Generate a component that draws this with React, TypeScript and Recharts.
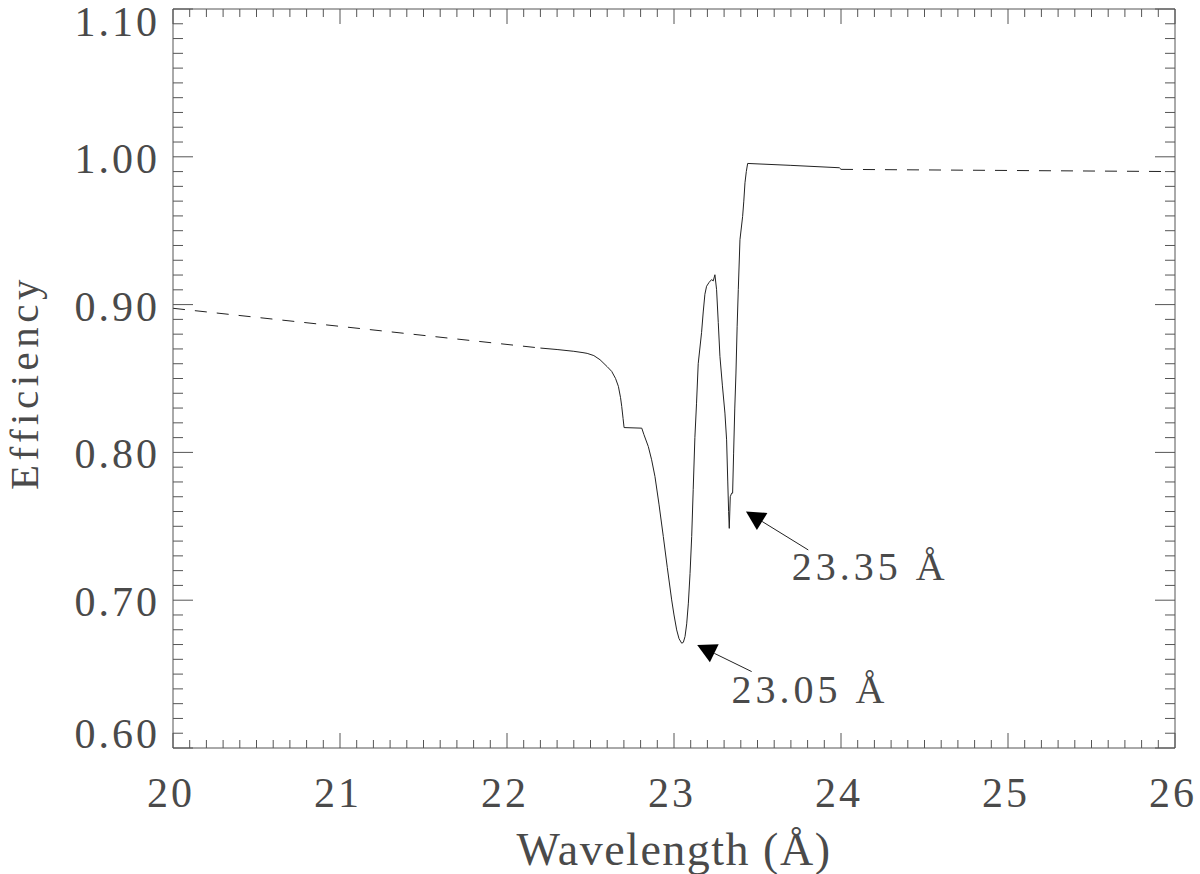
import React from 'react';
import { LineChart, Line, XAxis, YAxis, ReferenceLine, ReferenceDot, Label } from 'recharts';

// ---- data ----
const dashedLeftX = [20.0, 22.2];
const dashedLeftY = [0.8975, 0.8706];

const solidX = [
  22.2, 22.3, 22.4, 22.455, 22.48, 22.52, 22.557, 22.6, 22.627, 22.65, 22.667, 22.68, 22.687, 22.695, 22.701,
  22.807, 22.82, 22.846, 22.866, 22.886, 22.91, 22.936, 22.96, 22.986, 23.0, 23.016, 23.03, 23.046, 23.056,
  23.066, 23.076, 23.086, 23.096, 23.106, 23.115, 23.125, 23.135, 23.145, 23.165, 23.175, 23.185, 23.195,
  23.21, 23.225, 23.235, 23.245, 23.255, 23.265, 23.275, 23.29, 23.305, 23.315, 23.322, 23.327, 23.331,
  23.337, 23.345, 23.351, 23.357, 23.364, 23.371, 23.378, 23.385, 23.395, 23.411, 23.418, 23.425, 23.433,
  23.441, 23.7, 23.99, 24.0,
];
const solidY = [
  0.8706, 0.8696, 0.8684, 0.8675, 0.867, 0.8655, 0.8627, 0.858, 0.8548, 0.85, 0.8447, 0.837, 0.8311, 0.823, 0.8168,
  0.8164, 0.812, 0.804, 0.795, 0.7837, 0.765, 0.7431, 0.722, 0.7002, 0.69, 0.6799, 0.674, 0.6709, 0.6715,
  0.6754, 0.684, 0.698, 0.718, 0.7431, 0.775, 0.81, 0.8333, 0.86, 0.881, 0.895, 0.907, 0.9124,
  0.915, 0.9169, 0.916, 0.9202, 0.9101, 0.888, 0.865, 0.845, 0.8266, 0.8085, 0.78, 0.76, 0.7486,
  0.77, 0.7724, 0.7724, 0.7995, 0.83, 0.8537, 0.885, 0.9101, 0.9439, 0.9597, 0.97, 0.9824, 0.99,
  0.9955, 0.9942, 0.9926, 0.9915,
];

const dashedRightX = [24.0, 26.0];
const dashedRightY = [0.9915, 0.99];

const xMajorTicks = [20, 21, 22, 23, 24, 25, 26];
const yMajorTicks = [0.6, 0.7, 0.8, 0.9, 1.0, 1.1];

const annotationLabels = ['23.05 Å', '23.35 Å'];
const arrowTails = [
  { x: 23.465, y: 0.6517 },
  { x: 23.804, y: 0.734 },
];
const arrowHeads = [
  { x: 23.139, y: 0.6697 },
  { x: 23.431, y: 0.76 },
];
const labelAnchors = [
  { x: 23.345, y: 0.6303 },
  { x: 23.705, y: 0.7137 },
];

// ---- derived tables ----
const zip = (xs: number[], ys: number[]) => xs.map((x, i) => ({ x, y: ys[i] }));
const dashedLeft = zip(dashedLeftX, dashedLeftY);
const solid = zip(solidX, solidY);
const dashedRight = zip(dashedRightX, dashedRightY);

const xAllTicks: number[] = [];
for (let i = 0; i <= 60; i++) xAllTicks.push(Math.round((20 + i * 0.1) * 10) / 10);
const yAllTicks: number[] = [];
for (let i = 0; i <= 50; i++) yAllTicks.push(Math.round((0.6 + i * 0.01) * 100) / 100);

const isMajor = (v: number, list: number[]) => list.some((m) => Math.abs(m - v) < 1e-6);

const FONT = "'Liberation Serif', serif";
const TEXT_FILL = '#4a4a4a';
const AXIS = '#555';
const LINE = '#222';

const BottomTick = (p: any) => {
  const { x, y, payload } = p;
  const major = isMajor(payload.value, xMajorTicks);
  return (
    <g>
      <line x1={x} x2={x} y1={y} y2={y - (major ? 15 : 8)} stroke={AXIS} strokeWidth={1} />
      {major && (
        <text x={x - 2} y={y + 59} textAnchor="middle" fontFamily={FONT} fontSize={42} letterSpacing={3} fill={TEXT_FILL}>
          {payload.value}
        </text>
      )}
    </g>
  );
};

const TopTick = (p: any) => {
  const { x, y, payload } = p;
  const major = isMajor(payload.value, xMajorTicks);
  return <line x1={x} x2={x} y1={y} y2={y + (major ? 15 : 8)} stroke={AXIS} strokeWidth={1} />;
};

const yLabelOffset = (v: number) => {
  if (Math.abs(v - yMajorTicks[0]) < 1e-6) return 0;
  if (Math.abs(v - yMajorTicks[yMajorTicks.length - 1]) < 1e-6) return 27;
  return 16;
};

const LeftTick = (p: any) => {
  const { x, y, payload } = p;
  const major = isMajor(payload.value, yMajorTicks);
  return (
    <g>
      <line x1={x} x2={x + (major ? 20 : 10)} y1={y} y2={y} stroke={AXIS} strokeWidth={1} />
      {major && (
        <text x={x - 13} y={y + yLabelOffset(payload.value)} textAnchor="end" fontFamily={FONT} fontSize={42} letterSpacing={3} fill={TEXT_FILL}>
          {Number(payload.value).toFixed(2)}
        </text>
      )}
    </g>
  );
};

const RightTick = (p: any) => {
  const { x, y, payload } = p;
  const major = isMajor(payload.value, yMajorTicks);
  return <line x1={x} x2={x - (major ? 20 : 10)} y1={y} y2={y} stroke={AXIS} strokeWidth={1} />;
};

const XTitle = (p: any) => {
  const vb = p.viewBox || {};
  return (
    <text x={vb.x + vb.width / 2} y={vb.y + 117} textAnchor="middle" fontFamily={FONT} fontSize={46} letterSpacing={1.5} fill={TEXT_FILL}>
      Wavelength (Å)
    </text>
  );
};

const YTitle = (p: any) => {
  const vb = p.viewBox || {};
  const cx = 38;
  const cy = vb.y + vb.height / 2 + 4;
  return (
    <text x={cx} y={cy} transform={`rotate(-90 ${cx} ${cy})`} textAnchor="middle" fontFamily={FONT} fontSize={41} letterSpacing={4.5} fill={TEXT_FILL}>
      Efficiency
    </text>
  );
};

const ArrowShape = (p: any) => {
  const { x1, y1, x2, y2 } = p;
  const dx = x2 - x1;
  const dy = y2 - y1;
  const len = Math.sqrt(dx * dx + dy * dy) || 1;
  const ux = dx / len;
  const uy = dy / len;
  const L = 19;
  const W = 10;
  const bx = x2 - ux * L;
  const by = y2 - uy * L;
  const nx = -uy;
  const ny = ux;
  const pts = `${x2},${y2} ${bx + nx * W},${by + ny * W} ${bx - nx * W},${by - ny * W}`;
  return (
    <g>
      <line x1={x1} y1={y1} x2={bx} y2={by} stroke={LINE} strokeWidth={1} />
      <polygon points={pts} fill="#000" />
    </g>
  );
};

const makeLabelShape = (text: string) => (p: any) => (
  <text x={p.cx} y={p.cy} textAnchor="start" fontFamily={FONT} fontSize={40} letterSpacing={4} fill={TEXT_FILL}>
    {text}
  </text>
);

export default function App() {
  return (
    <div style={{ position: 'absolute', left: 0, top: 0, width: 1200, height: 874, background: '#fff' }}>
      <LineChart width={1200} height={874} margin={{ top: 8, right: 24, bottom: 125, left: 172 }}>
        <XAxis
          xAxisId="b"
          type="number"
          dataKey="x"
          domain={[20, 26]}
          allowDataOverflow
          ticks={xAllTicks}
          interval={0}
          tickSize={0}
          tickMargin={0}
          height={1}
          tickLine={false}
          axisLine={{ stroke: AXIS, strokeWidth: 1 }}
          tick={<BottomTick />}
          label={<Label content={<XTitle />} />}
        />
        <XAxis
          xAxisId="t"
          orientation="top"
          type="number"
          dataKey="x"
          domain={[20, 26]}
          allowDataOverflow
          ticks={xAllTicks}
          interval={0}
          tickSize={0}
          tickMargin={0}
          height={1}
          tickLine={false}
          axisLine={{ stroke: AXIS, strokeWidth: 1 }}
          tick={<TopTick />}
        />
        <YAxis
          yAxisId="l"
          type="number"
          domain={[0.6, 1.1]}
          allowDataOverflow
          ticks={yAllTicks}
          interval={0}
          tickSize={0}
          tickMargin={0}
          width={1}
          tickLine={false}
          axisLine={{ stroke: AXIS, strokeWidth: 1 }}
          tick={<LeftTick />}
          label={<Label content={<YTitle />} />}
        />
        <YAxis
          yAxisId="r"
          orientation="right"
          type="number"
          domain={[0.6, 1.1]}
          allowDataOverflow
          ticks={yAllTicks}
          interval={0}
          tickSize={0}
          tickMargin={0}
          width={1}
          tickLine={false}
          axisLine={{ stroke: AXIS, strokeWidth: 1 }}
          tick={<RightTick />}
        />
        <Line
          xAxisId="b"
          yAxisId="l"
          data={dashedLeft}
          dataKey="y"
          type="linear"
          stroke={LINE}
          strokeWidth={1}
          strokeDasharray="12 10"
          dot={false}
          activeDot={false}
          isAnimationActive={false}
        />
        <Line
          xAxisId="b"
          yAxisId="l"
          data={solid}
          dataKey="y"
          type="linear"
          stroke={LINE}
          strokeWidth={1}
          dot={false}
          activeDot={false}
          isAnimationActive={false}
        />
        <Line
          xAxisId="b"
          yAxisId="l"
          data={dashedRight}
          dataKey="y"
          type="linear"
          stroke={LINE}
          strokeWidth={1}
          strokeDasharray="12 10"
          dot={false}
          activeDot={false}
          isAnimationActive={false}
        />
        {annotationLabels.map((lbl, i) => (
          <ReferenceLine
            key={`arrow-${i}`}
            xAxisId="b"
            yAxisId="l"
            segment={[arrowTails[i], arrowHeads[i]]}
            shape={ArrowShape}
          />
        ))}
        {annotationLabels.map((lbl, i) => (
          <ReferenceDot
            key={`lbl-${i}`}
            xAxisId="b"
            yAxisId="l"
            x={labelAnchors[i].x}
            y={labelAnchors[i].y}
            r={0}
            shape={makeLabelShape(lbl)}
          />
        ))}
      </LineChart>
    </div>
  );
}
